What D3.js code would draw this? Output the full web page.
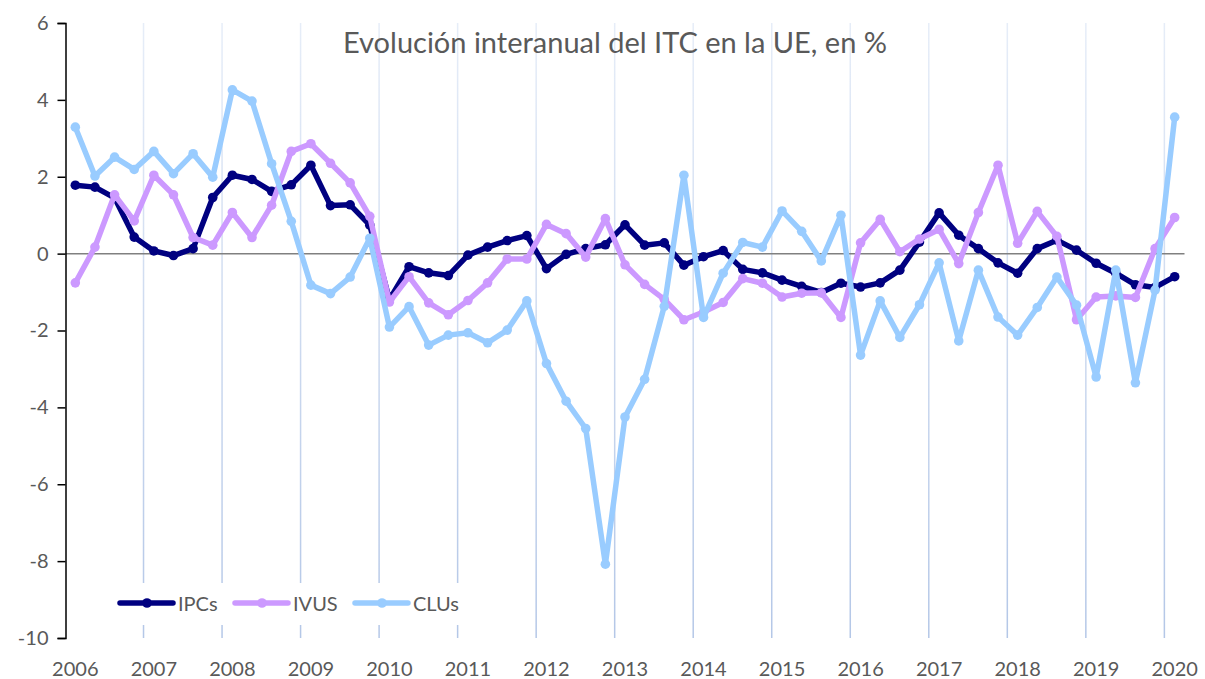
<!DOCTYPE html>
<html>
<head>
<meta charset="utf-8">
<script src="https://cdn.jsdelivr.net/npm/d3@7"></script>
<style>
  html, body { margin: 0; padding: 0; background: #fff; }
  svg { display: block; }
  text { font-family: Lato, "Open Sans", sans-serif; fill: #595959; }
</style>
</head>
<body>
<svg id="chart" width="1205" height="679"></svg>
<script>
// ---- data ----
const years = ["2006","2007","2008","2009","2010","2011","2012","2013","2014","2015","2016","2017","2018","2019","2020"];
const quarters = ["T1","T2","T3","T4"];
const categories = years.flatMap(yr => quarters.map(q => yr + q)).slice(0, 57);
const yTicks = [-10, -8, -6, -4, -2, 0, 2, 4, 6];
const chartTitle = "Evolución interanual del ITC en la UE, en %";

const seriesNames = ["IPCs", "IVUS", "CLUs"];
const ipcs = [1.78, 1.73, 1.45, 0.43, 0.07, -0.05, 0.13, 1.46, 2.04, 1.93, 1.62, 1.79, 2.30, 1.25, 1.27, 0.74,
  -1.20, -0.34, -0.50, -0.57, -0.04, 0.17, 0.34, 0.47, -0.39, -0.02, 0.13, 0.23, 0.75, 0.22, 0.28, -0.30,
  -0.08, 0.08, -0.41, -0.50, -0.69, -0.85, -1.01, -0.77, -0.87, -0.76, -0.43, 0.30, 1.06, 0.48, 0.13, -0.24,
  -0.51, 0.13, 0.35, 0.09, -0.25, -0.51, -0.81, -0.88, -0.60];
const ivus = [-0.76, 0.17, 1.53, 0.85, 2.04, 1.53, 0.42, 0.22, 1.07, 0.42, 1.26, 2.66, 2.86, 2.35, 1.84, 0.97,
  -1.26, -0.60, -1.28, -1.59, -1.22, -0.76, -0.14, -0.14, 0.76, 0.52, -0.09, 0.91, -0.29, -0.80, -1.19, -1.72,
  -1.52, -1.27, -0.65, -0.77, -1.13, -1.03, -1.02, -1.66, 0.28, 0.89, 0.05, 0.38, 0.63, -0.26, 1.07, 2.30,
  0.27, 1.10, 0.45, -1.72, -1.13, -1.10, -1.14, 0.13, 0.94];
const clus = [3.29, 2.02, 2.51, 2.19, 2.66, 2.08, 2.60, 1.99, 4.26, 3.97, 2.34, 0.84, -0.82, -1.04, -0.61, 0.40,
  -1.91, -1.38, -2.38, -2.12, -2.06, -2.32, -1.99, -1.23, -2.86, -3.84, -4.55, -8.08, -4.25, -3.27, -1.37, 2.04,
  -1.66, -0.51, 0.29, 0.17, 1.11, 0.58, -0.19, 1.00, -2.64, -1.23, -2.18, -1.33, -0.24, -2.27, -0.43, -1.65,
  -2.12, -1.40, -0.61, -1.34, -3.21, -0.43, -3.36, -0.95, 3.55];
const colors = ["#000080", "#cc99ff", "#99ccff"];

// ---- layout ----
const svg = d3.select("#chart");
const pLeft = 65.5, pRight = 1184.5, pTop = 23, pBottom = 638;

const x = d3.scaleBand().domain(categories).range([pLeft, pRight]).paddingInner(0).paddingOuter(0);
const y = d3.scaleLinear().domain([-10, 6]).range([pBottom, pTop]);
const cx = d => x(d) + x.bandwidth() / 2;

// gradient for vertical gridlines
const defs = svg.append("defs");
const grad = defs.append("linearGradient").attr("id", "gridGrad")
  .attr("gradientUnits", "userSpaceOnUse").attr("x1", 0).attr("y1", pTop).attr("x2", 0).attr("y2", pBottom);
grad.append("stop").attr("offset", "0%").attr("stop-color", "#e6edf8");
grad.append("stop").attr("offset", "100%").attr("stop-color", "#b4c7e7");

// vertical gridlines at year boundaries
const gridCats = categories.filter((c, i) => i > 0 && i % 4 === 0);
svg.append("g").selectAll("line").data(gridCats).join("line")
  .attr("x1", d => x(d) - 0.5).attr("x2", d => x(d) - 0.5)
  .attr("y1", pTop).attr("y2", pBottom)
  .attr("stroke", "url(#gridGrad)").attr("stroke-width", 1.5);

// zero line
svg.append("line").attr("x1", pLeft).attr("x2", pRight)
  .attr("y1", y(0)).attr("y2", y(0)).attr("stroke", "#808080").attr("stroke-width", 1.5);

// y axis
const yAxis = d3.axisLeft(y).tickValues(yTicks).tickSize(8).tickPadding(9).tickFormat(d => String(d));
const yg = svg.append("g").attr("transform", `translate(${pLeft},0)`).call(yAxis);
yg.select(".domain").attr("stroke", "#000").attr("stroke-width", 1.5);
yg.selectAll(".tick line").attr("stroke", "#000").attr("stroke-width", 1.5);
yg.selectAll(".tick text").attr("font-size", 20).style("font-family", "Lato").attr("fill", "#595959");

// x labels
const xAxis = d3.axisBottom(x).tickValues(categories.filter((c, i) => i % 4 === 0))
  .tickFormat(d => d.slice(0, 4)).tickSize(0).tickPadding(0);
const xg = svg.append("g").attr("transform", `translate(0,${pBottom})`).call(xAxis);
xg.select(".domain").remove();
xg.selectAll(".tick text").attr("font-size", 20).attr("dy", null).attr("y", 38).style("font-family", "Lato").attr("fill", "#595959");

// series
const seriesData = [ipcs, ivus, clus];
const line = d3.line().x((d, i) => cx(categories[i])).y(d => y(d)).curve(d3.curveLinear);
seriesData.forEach((vals, s) => {
  const g = svg.append("g");
  g.append("path").datum(vals).attr("d", line).attr("fill", "none")
    .attr("stroke", colors[s]).attr("stroke-width", 5.5).attr("stroke-linejoin", "round").attr("stroke-linecap", "round");
  g.selectAll("circle").data(vals).join("circle")
    .attr("cx", (d, i) => cx(categories[i])).attr("cy", d => y(d)).attr("r", 4.8).attr("fill", colors[s]);
});

// title
svg.append("text").attr("x", 615).attr("y", 53).attr("text-anchor", "middle")
  .attr("font-size", 29).text(chartTitle);

// legend
const lg = svg.append("g");
lg.append("rect").attr("x", 110).attr("y", 583).attr("width", 362).attr("height", 42).attr("fill", "#fff");
const legX = [120, 235, 355];
seriesNames.forEach((n, s) => {
  const gx = legX[s];
  lg.append("line").attr("x1", gx).attr("x2", gx + 53).attr("y1", 603).attr("y2", 603)
    .attr("stroke", colors[s]).attr("stroke-width", 5.5).attr("stroke-linecap", "round");
  lg.append("circle").attr("cx", gx + 27).attr("cy", 603).attr("r", 4.8).attr("fill", colors[s]);
  lg.append("text").attr("x", gx + 58).attr("y", 610.5).attr("font-size", 20).text(n);
});
</script>
</body>
</html>
